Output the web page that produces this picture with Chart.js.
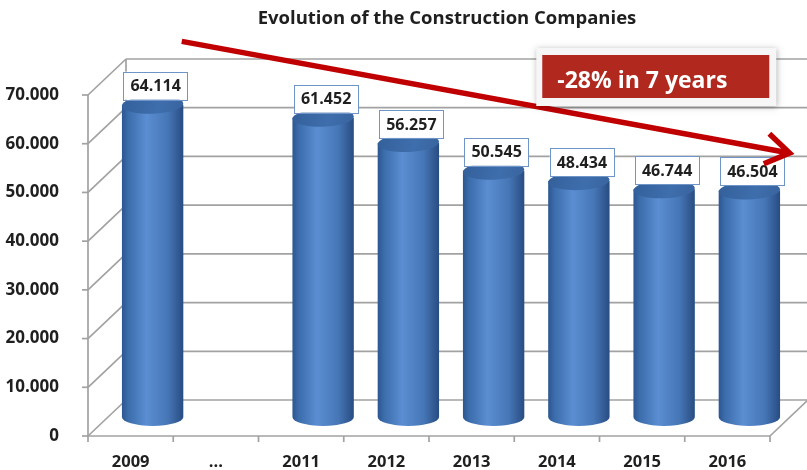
<!DOCTYPE html>
<html>
<head>
<meta charset="utf-8">
<script src="https://cdn.jsdelivr.net/npm/chart.js@4"></script>
<style>
  body { margin: 0; background: #fff; }
  #wrap { width: 807px; height: 470px; }
</style>
</head>
<body>
<div id="wrap"><canvas id="myChart"></canvas></div>
<script>
// data
const categories = ['2009', '...', '2011', '2012', '2013', '2014', '2015', '2016'];
const companies = [64114, null, 61452, 56257, 50545, 48434, 46744, 46504];
const yTicks = [0, 10000, 20000, 30000, 40000, 50000, 60000, 70000];
const titleText = 'Evolution of the Construction Companies';
const calloutText = '-28% in 7 years';
// arrow and callout in data units: [category index, value]
const arrowFrom = [0.6, 81000];
const arrowTo = [7.73, 58100];
const calloutAt = [6.16, 73800];

const depth = { x: 38, y: -36 };   // back wall offset
const barShift = { x: 22, y: -19 }; // cylinders sit mid depth
const gridColor = '#a2a2a2';
const textColor = '#1f1f1f';
const font = '"Open Sans", "Liberation Sans", sans-serif';

const fmt = v => String(v).replace(/\B(?=(\d{3})+(?!\d))/g, '.');

function line(ctx, x1, y1, x2, y2) {
    ctx.beginPath();
    ctx.moveTo(x1, y1);
    ctx.lineTo(x2, y2);
    ctx.stroke();
}

const frame3d = {
    id: 'frame3d',
    beforeDatasetsDraw(chart) {
        const { ctx, chartArea: a, scales: { x, y } } = chart;
        ctx.save();
        ctx.strokeStyle = gridColor;
        ctx.lineWidth = 1.7;
        yTicks.forEach(v => {
            const py = y.getPixelForValue(v);
            line(ctx, a.left, py, a.left + depth.x, py + depth.y);
            line(ctx, a.left + depth.x, py + depth.y, a.right + depth.x, py + depth.y);
            line(ctx, a.left - 6, py, a.left, py);
        });
        line(ctx, a.left + depth.x, a.top + depth.y, a.left + depth.x, a.bottom + depth.y);
        line(ctx, a.left, a.top, a.left, a.bottom);
        line(ctx, a.left, a.bottom, a.right, a.bottom);
        line(ctx, a.right, a.bottom, a.right + depth.x, a.bottom + depth.y);
        for (let i = 0; i <= categories.length; i++) {
            const px = x.getPixelForValue(i - 0.5);
            line(ctx, px, a.bottom, px, a.bottom + 6);
        }
        ctx.restore();
    }
};

const cylinders = {
    id: 'cylinders',
    afterDatasetsDraw(chart) {
        const { ctx, scales: { x, y } } = chart;
        const meta = chart.getDatasetMeta(0);
        ctx.save();
        meta.data.forEach((bar, i) => {
            if (companies[i] == null) return;
            const w = bar.width, cx = bar.x + barShift.x;
            const tY = bar.y + barShift.y, bY = bar.base + barShift.y, ry = 9;
            const g = ctx.createLinearGradient(cx - w / 2, 0, cx + w / 2, 0);
            g.addColorStop(0, '#2c5690');
            g.addColorStop(0.1, '#3b6cab');
            g.addColorStop(0.4, '#5a8ed2');
            g.addColorStop(0.75, '#4676b6');
            g.addColorStop(1, '#284c82');
            ctx.beginPath();
            ctx.moveTo(cx - w / 2, tY);
            ctx.lineTo(cx - w / 2, bY);
            ctx.ellipse(cx, bY, w / 2, ry, 0, Math.PI, 0, true);
            ctx.lineTo(cx + w / 2, tY);
            ctx.closePath();
            ctx.fillStyle = g;
            ctx.fill();
            const gt = ctx.createLinearGradient(cx - w / 2, tY - ry, cx + w / 2, tY + ry);
            gt.addColorStop(0, '#33609a');
            gt.addColorStop(0.6, '#3f6ead');
            gt.addColorStop(1, '#38649e');
            ctx.beginPath();
            ctx.ellipse(cx, tY, w / 2, ry, -0.04, 0, Math.PI * 2);
            ctx.fillStyle = gt;
            ctx.fill();

            // value label box
            const txt = fmt(companies[i]);
            ctx.font = 'bold 16px ' + font;
            const tw = ctx.measureText(txt).width;
            const bw = tw + 14, bh = 28;
            const lx = bar.x + 25, ly = bar.y - 38;
            ctx.fillStyle = '#fff';
            ctx.fillRect(lx - bw / 2, ly - bh / 2, bw, bh);
            ctx.strokeStyle = '#6f94c8';
            ctx.lineWidth = 1;
            ctx.strokeRect(Math.round(lx - bw / 2) + 0.5, Math.round(ly - bh / 2) + 0.5, Math.round(bw), bh);
            ctx.fillStyle = textColor;
            ctx.textAlign = 'center';
            ctx.textBaseline = 'middle';
            ctx.fillText(txt, lx, ly + 1);
        });

        // title
        ctx.font = 'bold 18.5px ' + font;
        ctx.fillStyle = textColor;
        ctx.textAlign = 'center';
        ctx.textBaseline = 'middle';
        ctx.fillText(titleText, 447, 19);

        // trend arrow
        const x1 = x.getPixelForValue(arrowFrom[0]), y1 = y.getPixelForValue(arrowFrom[1]);
        const x2 = x.getPixelForValue(arrowTo[0]), y2 = y.getPixelForValue(arrowTo[1]);
        ctx.strokeStyle = '#c00000';
        ctx.lineWidth = 5.5;
        ctx.lineJoin = 'miter';
        line(ctx, x1, y1, x2 - 3, y2 - 0.5);
        const ang = Math.atan2(y2 - y1, x2 - x1), len = 28, spread = 0.58;
        ctx.beginPath();
        ctx.moveTo(x2 - len * Math.cos(ang - spread), y2 - len * Math.sin(ang - spread));
        ctx.lineTo(x2, y2);
        ctx.lineTo(x2 - len * Math.cos(ang + spread), y2 - len * Math.sin(ang + spread));
        ctx.stroke();

        // callout box
        const cx = x.getPixelForValue(calloutAt[0]), cy = y.getPixelForValue(calloutAt[1]);
        const cw = 227, ch = 43;
        ctx.save();
        ctx.shadowColor = 'rgba(0,0,0,0.3)';
        ctx.shadowBlur = 6;
        ctx.shadowOffsetX = 1;
        ctx.shadowOffsetY = 1;
        ctx.fillStyle = '#f6f6f6';
        ctx.fillRect(cx - cw / 2 - 6, cy - ch / 2 - 7, cw + 13, ch + 15);
        ctx.restore();
        ctx.fillStyle = '#b0281e';
        ctx.fillRect(cx - cw / 2, cy - ch / 2, cw, ch);
        ctx.font = 'bold 23px ' + font;
        ctx.fillStyle = '#fff';
        ctx.textAlign = 'left';
        ctx.textBaseline = 'alphabetic';
        ctx.fillText(calloutText, cx - cw / 2 + 15, cy + 12);
        ctx.restore();
    }
};

const ctx = document.getElementById('myChart').getContext('2d');
const myChart = new Chart(ctx, {
    type: 'bar',
    data: {
        labels: categories,
        datasets: [{
            label: 'Construction companies',
            data: companies,
            backgroundColor: 'rgba(0,0,0,0)',
            barPercentage: 0.72,
            categoryPercentage: 1
        }]
    },
    options: {
        responsive: true,
        maintainAspectRatio: false,
        animation: false,
        layout: { padding: { top: 95, right: 37, bottom: 0, left: 0 } },
        plugins: {
            legend: { display: false },
            tooltip: { enabled: false },
            title: { display: false }
        },
        scales: {
            x: {
                grid: { display: false },
                border: { display: false },
                ticks: {
                    padding: 8,
                    autoSkip: false,
                    maxRotation: 0,
                    color: textColor,
                    font: { family: font, size: 16.5, weight: 'bold' }
                },
                afterFit(scale) { scale.height = 34; }
            },
            y: {
                min: 0,
                max: 70000,
                grid: { display: false },
                border: { display: false },
                ticks: {
                    stepSize: 10000,
                    padding: 21,
                    color: textColor,
                    font: { family: font, size: 17, weight: 'bold' },
                    callback: v => fmt(v)
                },
                afterFit(scale) { scale.width = 88; }
            }
        }
    },
    plugins: [frame3d, cylinders]
});
</script>
</body>
</html>
